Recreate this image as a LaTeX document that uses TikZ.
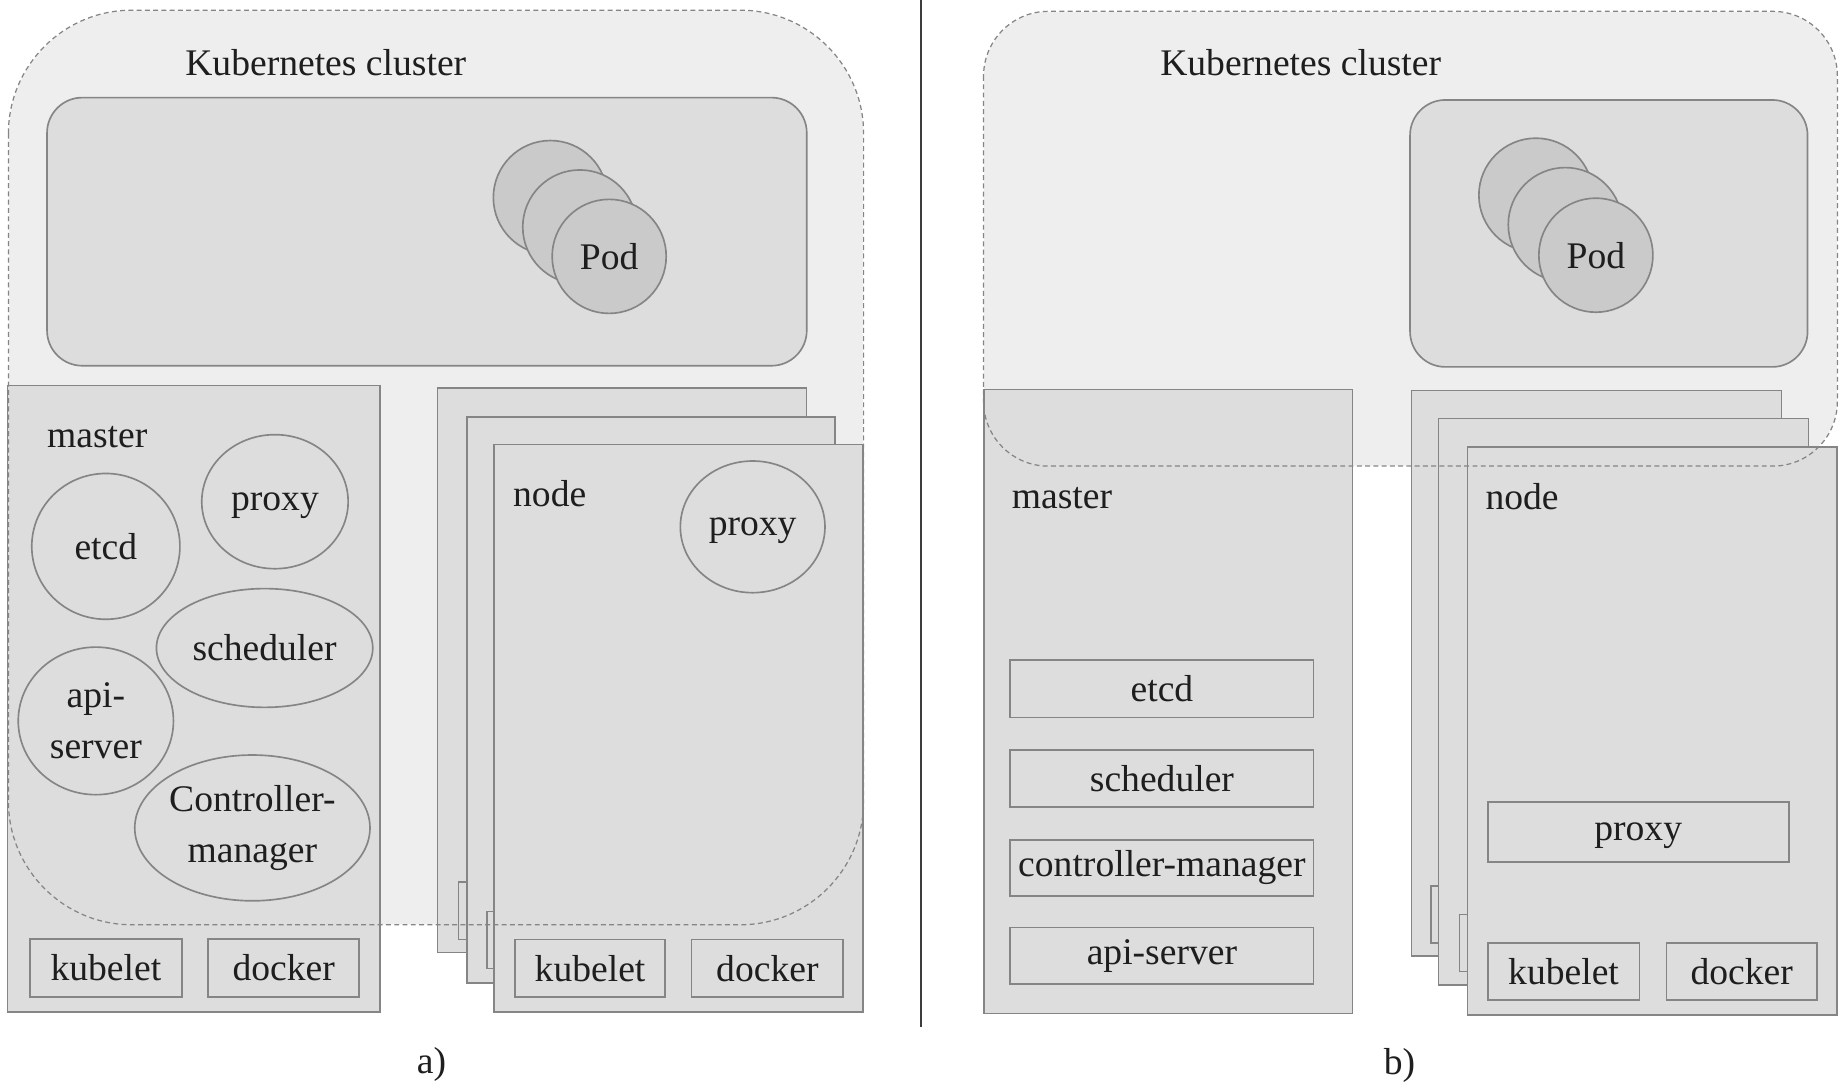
\documentclass[tikz,border=0pt]{standalone}
\usepackage{fontspec}
\setmainfont{Liberation Serif}
\usetikzlibrary{shapes.geometric,fit}
\definecolor{clusterfill}{HTML}{EEEEEE}
\definecolor{boxfill}{HTML}{DDDDDD}
\definecolor{podfill}{HTML}{CACACA}
\definecolor{edgegray}{HTML}{858585}
\definecolor{textgray}{HTML}{1E1E1E}
\definecolor{rulegray}{HTML}{3C3C3C}

\begin{document}
\begin{tikzpicture}[x=0.02cm,y=-0.02cm,
        every node/.style={font=\fontsize{18.2}{24.5}\selectfont,text=textgray,inner sep=0pt},
        cluster/.style={fill=clusterfill},
        clusterline/.style={draw=edgegray,line width=0.6pt,dash pattern=on 2.4pt off 1.6pt},
        area/.style={draw=edgegray,fill=boxfill,line width=0.8pt,rounded corners=0.6cm},
        pod/.style={shape=circle,draw=edgegray,fill=podfill,line width=0.8pt,minimum size=1.94cm},
        card/.style={draw=edgegray,fill=boxfill,line width=0.7pt},
        part/.style={draw=edgegray,fill=boxfill,line width=0.8pt},
        blob/.style={shape=ellipse,draw=edgegray,line width=0.8pt,align=center}]
        \useasboundingbox (0,0) rectangle (1568,925);

        % a) all parts on the master
        \node[cluster,rounded corners=2.1cm,fit={(7.5,9) (734,786)}] (clusterA) {};
        \node[anchor=base] (titleA) at (277,63.8) {Kubernetes cluster};
        \node[area,fit={(40,83) (686,311)}] (podsA) {};
        \node[pod] (podA1) at (468,168) {};
        \node[pod] (podA2) at (493,193) {};
        \node[pod] (podA3) at (518,218) {Pod};

        \node[card,fit={(6.2,328) (323,860.5)}] (masterA) {};
        \node[anchor=base west] (masterlabelA) at (39.7,380.6) {master};
        \node[blob,minimum width=2.52cm,minimum height=2.48cm] (etcdA) at (90,464.6) {etcd};
        \node[blob,minimum width=2.49cm,minimum height=2.28cm,text depth=0pt] (proxyA) at (233.8,426.6) {proxy};
        \node[blob,minimum width=3.68cm,minimum height=2.02cm] (schedulerA) at (225,551) {scheduler};
        \node[blob,minimum width=2.64cm,minimum height=2.51cm] (apiA) at (81.5,613) {api-\\server};
        \node[blob,minimum width=3.94cm,minimum height=2.48cm] (controllerA) at (214.6,704) {Controller-\\manager};
        \node[part,fit={(25.5,798.5) (154.5,847.5)},label={center:kubelet}] (kubeletA) {};
        \node[part,fit={(177,798.5) (305.5,847.5)},label={center:docker}] (dockerA) {};

        \node[card,fit={(372,330) (686,810)}] (nodeA1) {};
        \node[part,fit={(390,750) (517.5,799)}] (kubeletA1) {};
        \node[card,fit={(397,354.5) (710,836)}] (nodeA2) {};
        \node[part,fit={(414,775) (541.5,823.5)}] (kubeletA2) {};
        \node[card,fit={(420,378) (734,860.5)}] (nodeA3) {};
        \node[anchor=base west] (nodelabelA) at (436,431) {node};
        \node[blob,minimum width=2.46cm,minimum height=2.24cm,text depth=0pt] (proxyA3) at (640,448) {proxy};
        \node[part,fit={(438,799) (565.5,848)},label={center:kubelet}] (kubeletA3) {};
        \node[part,fit={(588,799) (717,848)},label={center:docker}] (dockerA3) {};

        \draw[clusterline,rounded corners=2.1cm] (clusterA.north west) rectangle (clusterA.south east);
        \node[anchor=base] (capA) at (367,913) {a)};

        \coordinate (divtop) at (783,0);
        \coordinate (divbot) at (783,873);
        \draw[rulegray,line width=0.7pt] (divtop) -- (divbot);

        % b) only the pods run in the cluster
        \node[cluster,rounded corners=1.1cm,fit={(836.7,10) (1562,396)}] (clusterB) {};
        \node[anchor=base] (titleB) at (1106,64.5) {Kubernetes cluster};
        \node[area,fit={(1199,85) (1537,312)}] (podsB) {};
        \node[pod] (podB1) at (1306,166) {};
        \node[pod] (podB2) at (1331,191) {};
        \node[pod] (podB3) at (1357,217) {Pod};

        \node[card,fit={(836.7,331) (1150,861.6)}] (masterB) {};
        \node[anchor=base west] (masterlabelB) at (860,432) {master};
        \node[part,fit={(859,561) (1117,610)},label={center:etcd}] (etcdB) {};
        \node[part,fit={(859,638) (1117,686)},label={center:scheduler}] (schedulerB) {};
        \node[part,fit={(859,714) (1117,762)},label={center:controller-manager}] (controllerB) {};
        \node[part,fit={(859,788.6) (1117,836.7)},label={center:api-server}] (apiB) {};

        \node[card,fit={(1200,332) (1515,813)}] (nodeB1) {};
        \node[part,fit={(1217,753.6) (1346,801.6)}] (kubeletB1) {};
        \node[card,fit={(1223,356) (1538,837.6)}] (nodeB2) {};
        \node[part,fit={(1241,777.6) (1370,826)}] (kubeletB2) {};
        \node[card,fit={(1247.6,380) (1562,863)}] (nodeB3) {};
        \node[anchor=base west] (nodelabelB) at (1262.8,433) {node};
        \node[part,fit={(1265,681.7) (1521,732.7)},label={[text depth=0pt]center:proxy}] (proxyB3) {};
        \node[part,fit={(1265,801.6) (1394,850.3)},label={center:kubelet}] (kubeletB3) {};
        \node[part,fit={(1417,801.6) (1545,850.3)},label={center:docker}] (dockerB3) {};

        \draw[clusterline,rounded corners=1.1cm] (clusterB.north west) rectangle (clusterB.south east);
        \node[anchor=base] (capB) at (1190,914) {b)};
    \end{tikzpicture}
\end{document}
